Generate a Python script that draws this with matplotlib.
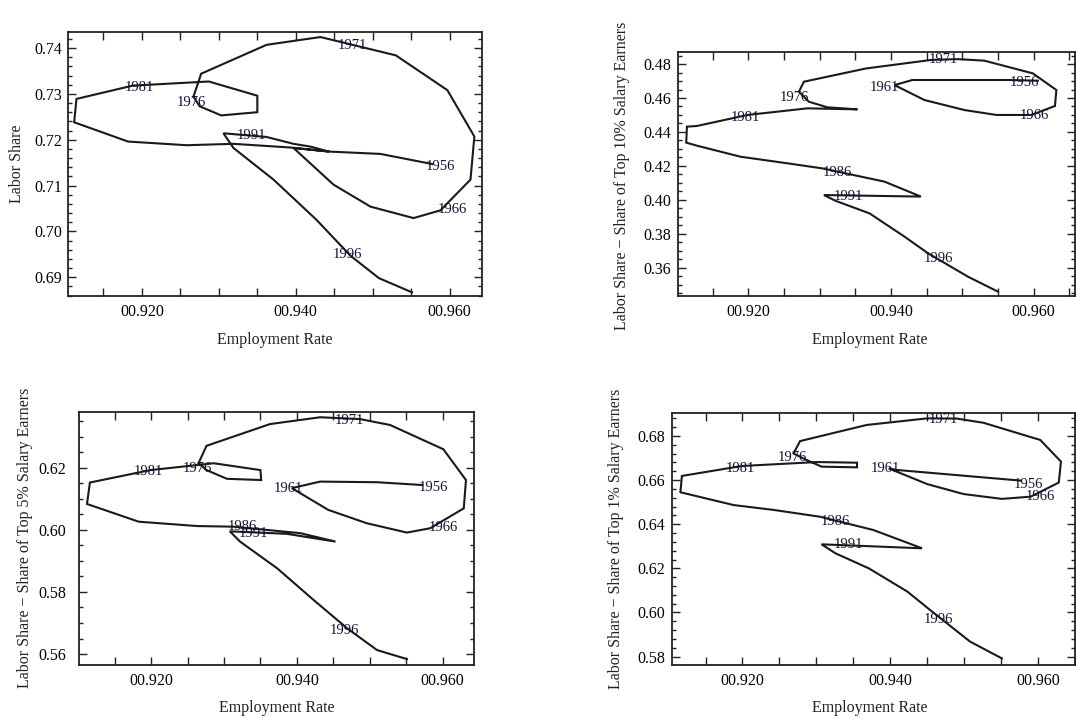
import numpy as np
import matplotlib
matplotlib.use("Agg")
import matplotlib.pyplot as plt
from matplotlib.ticker import MultipleLocator, FuncFormatter

plt.rcParams['font.family'] = ['Liberation Serif', 'DejaVu Serif']

# Panel 1: labor share
emp1 = [0.9577, 0.9510, 0.9445, 0.9397, 0.9449, 0.9497, 0.9553, 0.9588, 0.9627, 0.9632,
        0.9597, 0.9530, 0.9432, 0.9362, 0.9277, 0.9267, 0.9275, 0.9303, 0.9350, 0.9350,
        0.9287, 0.9188, 0.9115, 0.9112, 0.9182, 0.9258, 0.9319, 0.9393, 0.9443, 0.9419,
        0.9397, 0.9362, 0.9306, 0.9319, 0.9371, 0.9427, 0.9471, 0.9508, 0.9551]
share1 = [0.7147, 0.7169, 0.7174, 0.7182, 0.7102, 0.7054, 0.7029, 0.7046, 0.7113, 0.7207,
          0.7308, 0.7384, 0.7424, 0.7407, 0.7344, 0.7294, 0.7273, 0.7253, 0.7260, 0.7296,
          0.7327, 0.7318, 0.7289, 0.7238, 0.7196, 0.7188, 0.7191, 0.7183, 0.7174, 0.7185,
          0.7191, 0.7206, 0.7214, 0.7182, 0.7113, 0.7025, 0.6947, 0.6898, 0.6867]
years1 = ["1971", "1981", "1976", "1991", "1956", "1966", "1996"]
lab_x1 = [0.9473, 0.9197, 0.9264, 0.9343, 0.9588, 0.9604, 0.9467]
lab_y1 = [0.7405, 0.7314, 0.7282, 0.7209, 0.7142, 0.7047, 0.6949]

# Panel 2: labor share minus top 10%
emp2 = [0.9606, 0.9564, 0.9430, 0.9405, 0.9447, 0.9503, 0.9548, 0.9597, 0.9630, 0.9632,
        0.9599, 0.9531, 0.9494, 0.9456, 0.9365, 0.9278, 0.9271, 0.9285, 0.9311, 0.9353,
        0.9283, 0.9199, 0.9128, 0.9114, 0.9113, 0.9128, 0.9189, 0.9255, 0.9304, 0.9391,
        0.9442, 0.9306, 0.9323, 0.9370, 0.9419, 0.9452, 0.9508, 0.9550]
share2 = [0.4702, 0.4706, 0.4706, 0.4676, 0.4588, 0.4529, 0.4500, 0.4500, 0.4553, 0.4647,
          0.4745, 0.4820, 0.4829, 0.4824, 0.4774, 0.4696, 0.4637, 0.4578, 0.4545, 0.4533,
          0.4539, 0.4500, 0.4435, 0.4431, 0.4337, 0.4319, 0.4254, 0.4215, 0.4185, 0.4107,
          0.4019, 0.4028, 0.3993, 0.3920, 0.3783, 0.3685, 0.3547, 0.3459]
years2 = ["1971", "1956", "1961", "1976", "1981", "1966", "1986", "1991", "1996"]
lab_x2 = [0.9473, 0.9587, 0.9391, 0.9264, 0.9196, 0.9601, 0.9325, 0.9341, 0.9466]
lab_y2 = [0.4824, 0.4690, 0.4663, 0.4604, 0.4486, 0.4494, 0.4160, 0.4022, 0.3655]

# Panel 3: labor share minus top 5%
emp3 = [0.9572, 0.9510, 0.9432, 0.9393, 0.9443, 0.9496, 0.9551, 0.9583, 0.9629, 0.9632,
        0.9601, 0.9528, 0.9487, 0.9432, 0.9363, 0.9276, 0.9265, 0.9276, 0.9304, 0.9351,
        0.9350, 0.9286, 0.9199, 0.9116, 0.9112, 0.9183, 0.9263, 0.9313, 0.9405, 0.9453,
        0.9386, 0.9308, 0.9322, 0.9373, 0.9423, 0.9469, 0.9510, 0.9551]
share3 = [0.6144, 0.6153, 0.6155, 0.6134, 0.6064, 0.6021, 0.5991, 0.6005, 0.6069, 0.6160,
          0.6259, 0.6337, 0.6356, 0.6362, 0.6340, 0.6270, 0.6214, 0.6192, 0.6164, 0.6160,
          0.6192, 0.6214, 0.6192, 0.6152, 0.6083, 0.6026, 0.6012, 0.6010, 0.5989, 0.5962,
          0.5987, 0.5995, 0.5962, 0.5876, 0.5774, 0.5683, 0.5613, 0.5584]
years3 = ["1971", "1981", "1976", "1961", "1956", "1986", "1991", "1966", "1996"]
lab_x3 = [0.9472, 0.9196, 0.9263, 0.9389, 0.9588, 0.9325, 0.9341, 0.9601, 0.9465]
lab_y3 = [0.6353, 0.6189, 0.6198, 0.6134, 0.6136, 0.6010, 0.5987, 0.6008, 0.5676]

# Panel 4: labor share minus top 1%
emp4 = [0.9576, 0.9409, 0.9398, 0.9450, 0.9499, 0.9551, 0.9590, 0.9628, 0.9631, 0.9603,
        0.9526, 0.9490, 0.9450, 0.9368, 0.9278, 0.9269, 0.9287, 0.9307, 0.9355, 0.9355,
        0.9301, 0.9199, 0.9118, 0.9116, 0.9188, 0.9242, 0.9305, 0.9377, 0.9443, 0.9307,
        0.9326, 0.9371, 0.9423, 0.9454, 0.9508, 0.9551]
share4 = [0.6598, 0.6646, 0.6653, 0.6582, 0.6537, 0.6515, 0.6525, 0.6589, 0.6684, 0.6782,
          0.6860, 0.6879, 0.6880, 0.6850, 0.6777, 0.6721, 0.6691, 0.6661, 0.6658, 0.6679,
          0.6682, 0.6664, 0.6619, 0.6545, 0.6487, 0.6465, 0.6434, 0.6374, 0.6291, 0.6309,
          0.6268, 0.6200, 0.6095, 0.6011, 0.5868, 0.5792]
years4 = ["1971", "1976", "1981", "1961", "1956", "1966", "1986", "1991", "1996"]
lab_x4 = [0.9472, 0.9267, 0.9197, 0.9393, 0.9587, 0.9603, 0.9326, 0.9344, 0.9465]
lab_y4 = [0.6876, 0.6703, 0.6653, 0.6653, 0.6578, 0.6528, 0.6412, 0.6309, 0.5969]

ylabels = ["Labor Share",
           "Labor Share \u2212 Share of Top 10% Salary Earners",
           "Labor Share \u2212 Share of Top 5% Salary Earners",
           "Labor Share \u2212 Share of Top 1% Salary Earners"]
xlabel = "Employment Rate"

fig = plt.figure(figsize=(10.76, 7.19), dpi=100)

# (rect, xlim, ylim, y major, y minor, ylabel x pos, ytick pad)
panels = [
    ([0.0632, 0.5883, 0.3848, 0.3672], (0.9104, 0.9642), (0.6859, 0.7435), 0.01, 0.002, 17, 4.5),
    ([0.6298, 0.5883, 0.3692, 0.3389], (0.9101, 0.9658), (0.3433, 0.4869), 0.02, 0.005, 622, 4.5),
    ([0.0734, 0.0751, 0.3671, 0.3515], (0.9101, 0.9643), (0.5565, 0.6378), 0.02, 0.005, 25, 9),
    ([0.6248, 0.0751, 0.3743, 0.3501], (0.9105, 0.9650), (0.5762, 0.6903), 0.02, 0.004, 616, 5),
]
data = [(emp1, share1, years1, lab_x1, lab_y1),
        (emp2, share2, years2, lab_x2, lab_y2),
        (emp3, share3, years3, lab_x3, lab_y3),
        (emp4, share4, years4, lab_x4, lab_y4)]

xfmt = FuncFormatter(lambda v, p: "0%.3f" % v if abs(v * 50 - round(v * 50)) < 1e-6 else "")

for i, (rect, xl, yl, ymaj, ymin, ylx, ypad) in enumerate(panels):
    ex, sh, yrs, lx, ly = data[i]
    ax = fig.add_axes(rect)
    ax.plot(ex, sh, color='#1a1a1a', lw=1.5, solid_joinstyle='miter')
    for t, a, b in zip(yrs, lx, ly):
        ax.text(a, b, t, fontsize=10.5, ha='center', va='center', color='#111133', clip_on=True)
    ax.set_xlim(*xl)
    ax.set_ylim(*yl)
    ax.xaxis.set_major_locator(MultipleLocator(0.005))
    ax.xaxis.set_major_formatter(xfmt)
    ax.yaxis.set_major_locator(MultipleLocator(ymaj))
    ax.yaxis.set_minor_locator(MultipleLocator(ymin))
    ax.yaxis.set_major_formatter(FuncFormatter(lambda v, p: "%.2f" % v))
    ax.tick_params(which='both', direction='in', top=True, right=True, width=1, color='#222222')
    ax.tick_params(which='major', length=6, labelsize=11.5)
    ax.tick_params(which='minor', length=3)
    ax.tick_params(axis='x', pad=5.5)
    ax.tick_params(axis='y', pad=ypad)
    for s in ax.spines.values():
        s.set_linewidth(1.3)
        s.set_color('#222222')
    bbox = ax.get_position()
    xc = (bbox.x0 + bbox.x1) / 2
    if i % 2 == 1:
        xc = 870 / 1076
    ly_pix = 340 if i < 2 else 708
    fig.text(xc, 1 - ly_pix / 719, xlabel, fontsize=11.5, ha='center', va='center', color='#222222')
    yc_pix = [164, 176, 538, 539][i]
    fig.text(ylx / 1076, 1 - yc_pix / 719, ylabels[i], fontsize=11.5, rotation=90,
             ha='center', va='center', color='#222222')

fig.savefig("out.png", dpi=100)
